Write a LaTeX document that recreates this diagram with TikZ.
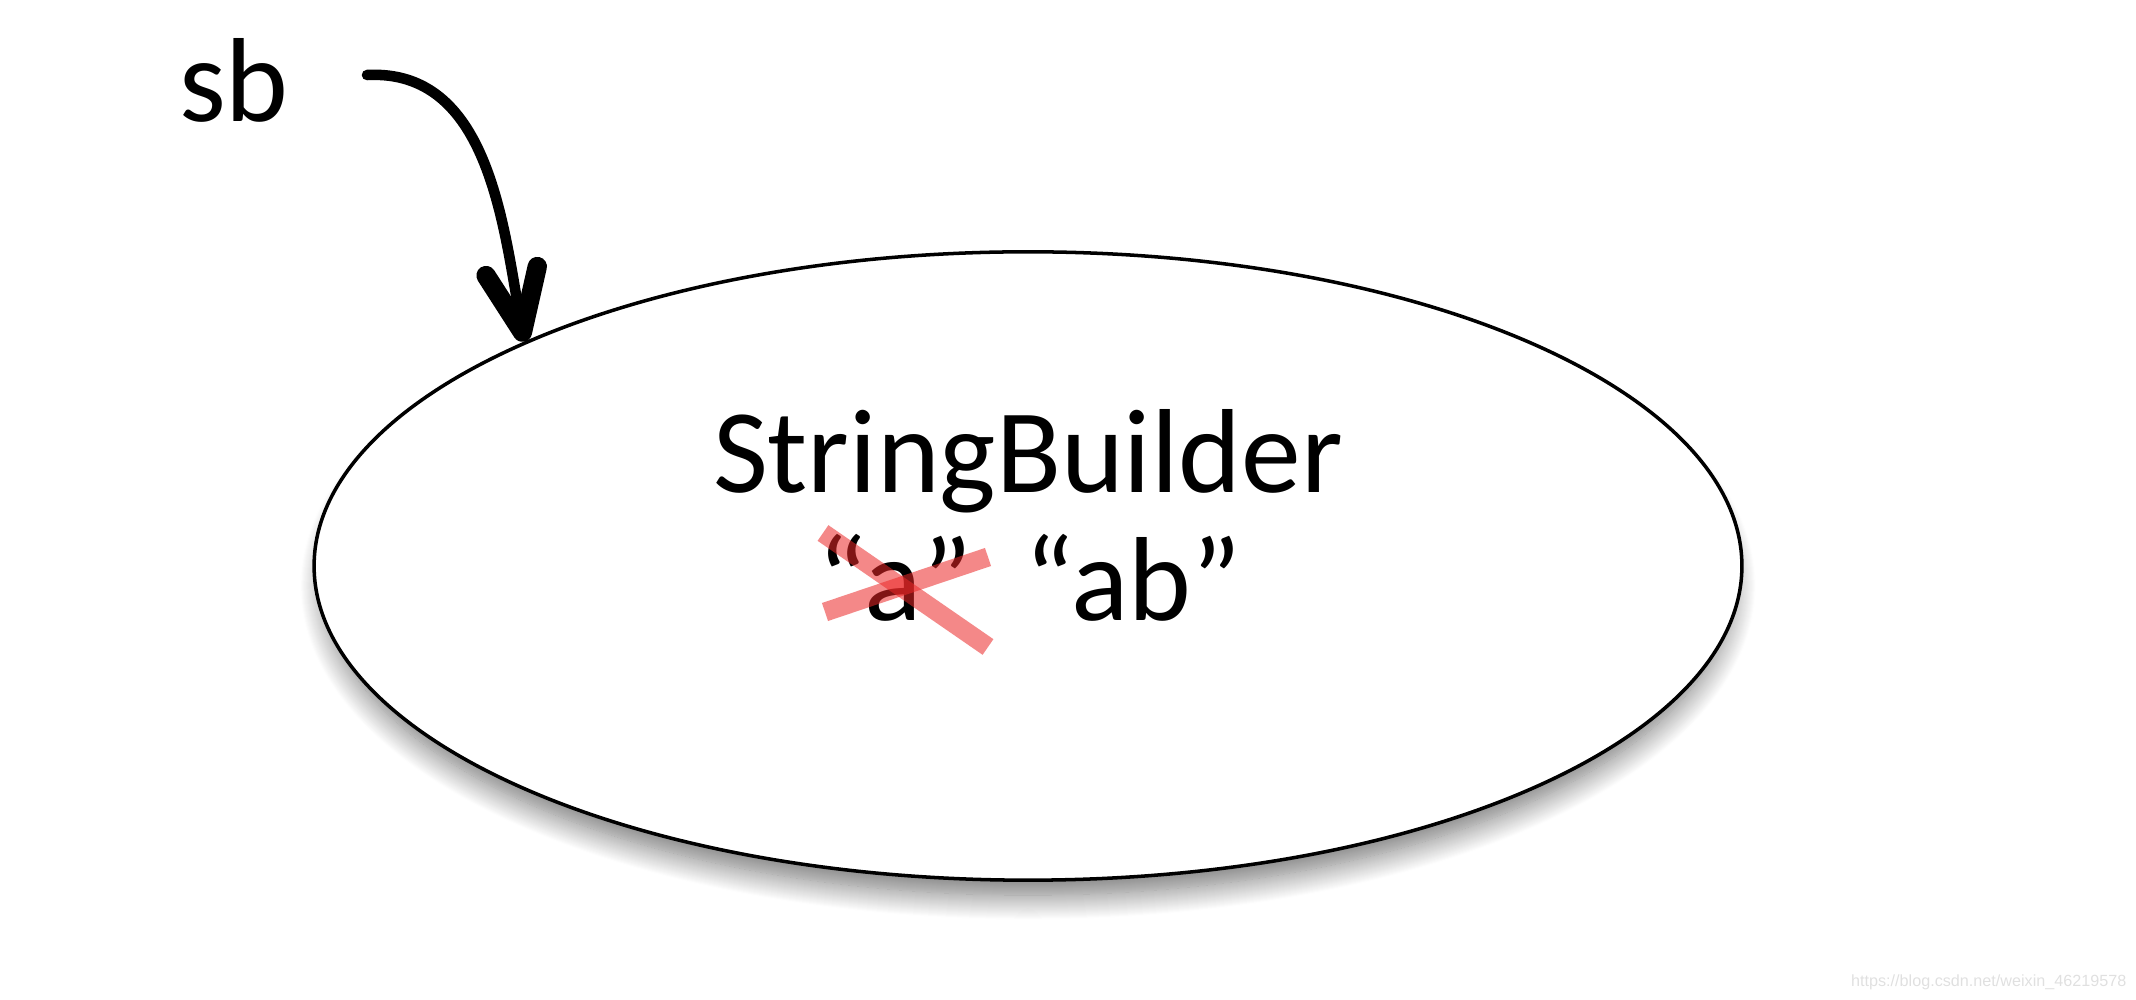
\documentclass[tikz,border=0pt]{standalone}
\usepackage{fontspec}
\setmainfont{Carlito}
\newfontfamily\urlfont{Liberation Sans}
\usetikzlibrary{shapes.geometric,arrows.meta,shadows.blur}
\definecolor{crossred}{RGB}{235,40,40}

\begin{document}
\begin{tikzpicture}[x=0.01cm,y=0.01cm,
    txt/.style={font=\fontsize{34}{40}\selectfont, inner sep=0pt, anchor=base},
    redx/.style={line width=0.19cm, crossred, opacity=0.55}]
  \useasboundingbox (0,0) rectangle (2136,1000);
  \node[ellipse, draw, line width=1pt, fill=white, minimum width=14.27cm, minimum height=6.28cm,
        blur shadow={shadow xshift=0cm, shadow yshift=-0.2cm, shadow scale=0.985,
          shadow blur radius=0.25cm, shadow blur steps=25, shadow opacity=55}] (obj) at (1028,434) {};
  \node[txt] (cls) at (1028,507) {StringBuilder};
  \node[txt] (old) at (895,379) {“a”};
  \node[txt] (new) at (1133,379) {“ab”};
  \draw[redx] ([shift={(-72,88)}]old.base) -- ([shift={(93,-26)}]old.base);
  \draw[redx] ([shift={(-70,9)}]old.base) -- ([shift={(93,64)}]old.base);
  \node[txt] (sb) at (234,878) {sb};
  \coordinate (tail) at (367,925);
  \draw[line width=3pt, line cap=round,
        -{Straight Barb[length=0.62cm,width=0.52cm,line width=5.5pt,round]}] (tail) to[out=3,in=100] (obj.156);
  \node[font=\urlfont\fontsize{4.6}{5}\selectfont, text=black!12, anchor=east, inner sep=0pt] (wm) at (2127,18) {https://blog.csdn.net/weixin\_46219578};
\end{tikzpicture}
\end{document}
